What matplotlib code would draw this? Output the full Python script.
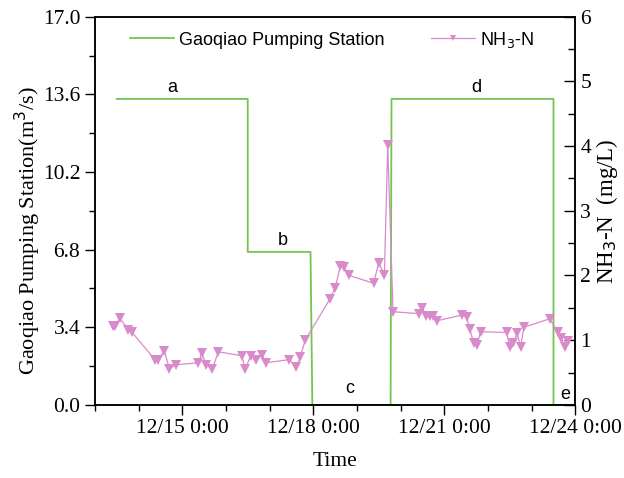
import pandas as pd
import matplotlib.pyplot as plt
import matplotlib.dates as mdates
from matplotlib.ticker import MultipleLocator, FuncFormatter

# pumping station flow (step series), m3/s
flow_time = ["2020-12-13 12:00", "2020-12-16 12:00", "2020-12-16 12:00", "2020-12-17 22:30",
             "2020-12-17 23:30", "2020-12-19 18:30", "2020-12-19 19:00", "2020-12-23 12:00",
             "2020-12-23 12:00", "2020-12-23 22:00"]
flow_val = [13.4, 13.4, 6.7, 6.7, 0.0, 0.0, 13.4, 13.4, 0.0, 0.0]

# NH3-N samples, mg/L
nh3_time = ["2020-12-13 09:45", "2020-12-13 11:00", "2020-12-13 13:45", "2020-12-13 18:20",
            "2020-12-13 20:10", "2020-12-14 09:00", "2020-12-14 10:50", "2020-12-14 14:10",
            "2020-12-14 16:55", "2020-12-14 20:35", "2020-12-15 08:50", "2020-12-15 10:45",
            "2020-12-15 13:15", "2020-12-15 16:30", "2020-12-15 19:50", "2020-12-16 08:45",
            "2020-12-16 10:35", "2020-12-16 13:40", "2020-12-16 16:40", "2020-12-16 19:45",
            "2020-12-16 22:00", "2020-12-17 10:55", "2020-12-17 14:40", "2020-12-17 16:50",
            "2020-12-17 19:35", "2020-12-18 09:00", "2020-12-18 12:05", "2020-12-18 14:50",
            "2020-12-18 16:40", "2020-12-18 19:50", "2020-12-19 09:10", "2020-12-19 12:00",
            "2020-12-19 15:05", "2020-12-19 16:55", "2020-12-19 19:50", "2020-12-20 10:00",
            "2020-12-20 11:50", "2020-12-20 14:10", "2020-12-20 16:25", "2020-12-20 17:50",
            "2020-12-20 20:05", "2020-12-21 09:50", "2020-12-21 12:15", "2020-12-21 14:00",
            "2020-12-21 16:15", "2020-12-21 18:05", "2020-12-21 19:55", "2020-12-22 10:15",
            "2020-12-22 12:00", "2020-12-22 13:55", "2020-12-22 16:05", "2020-12-22 17:55",
            "2020-12-22 19:45", "2020-12-23 09:55", "2020-12-23 14:30", "2020-12-23 16:20",
            "2020-12-23 18:20", "2020-12-23 20:10"]
nh3_val = [1.22, 1.22, 1.34, 1.16, 1.13, 0.70, 0.70, 0.84, 0.56, 0.62,
           0.65, 0.80, 0.62, 0.55, 0.82, 0.76, 0.55, 0.76, 0.69, 0.77,
           0.65, 0.70, 0.58, 0.74, 1.00, 1.63, 1.81, 2.14, 2.13, 2.00,
           1.88, 2.20, 2.00, 4.02, 1.44, 1.41, 1.50, 1.38, 1.38, 1.38,
           1.30, 1.39, 1.36, 1.17, 0.95, 0.93, 1.13, 1.12, 0.89, 0.95,
           1.11, 0.89, 1.20, 1.33, 1.12, 1.04, 0.89, 0.99]

# period labels a-e
lab_text = ["a", "b", "c", "d", "e"]
lab_time = ["2020-12-14 18:30", "2020-12-17 07:30", "2020-12-18 20:00",
            "2020-12-21 17:45", "2020-12-23 18:40"]
lab_val = [13.9, 7.2, 0.7, 13.9, 0.45]

green = "#74c550"
pink = "#d98acb"
serif = "Liberation Serif"
sans = "Liberation Sans"

fig = plt.figure(figsize=(6.24, 4.78), dpi=100)
ax = fig.add_axes([0.152, 0.153, 0.770, 0.812])
ax2 = ax.twinx()

l1, = ax.plot(pd.to_datetime(flow_time), flow_val, color=green, lw=1.3,
              label="Gaoqiao Pumping Station")
l2, = ax2.plot(pd.to_datetime(nh3_time), nh3_val, color=pink, lw=0.9, marker="v",
               markersize=6.5, markeredgewidth=0, label="NH$_3$-N")

for t, x, y in zip(lab_text, pd.to_datetime(lab_time), lab_val):
    ax.text(x, y, t, ha="center", va="center", fontsize=13, family=sans)

ax.set_xlim(pd.Timestamp("2020-12-13"), pd.Timestamp("2020-12-24"))
ax.set_ylim(0, 17)
ax2.set_ylim(0, 6)

ax.xaxis.set_major_locator(mdates.DayLocator(bymonthday=[15, 18, 21, 24]))
ax.xaxis.set_minor_locator(mdates.DayLocator())
ax.xaxis.set_major_formatter(FuncFormatter(
    lambda v, p: "{d.month}/{d.day} {d.hour}:{d.minute:02d}".format(d=mdates.num2date(v))))
ax.yaxis.set_major_locator(MultipleLocator(3.4))
ax.yaxis.set_minor_locator(MultipleLocator(1.7))
ax.yaxis.set_major_formatter(FuncFormatter(lambda v, p: f"{v:.1f}"))
ax2.yaxis.set_major_locator(MultipleLocator(1))
ax2.yaxis.set_minor_locator(MultipleLocator(0.5))

ax.tick_params(which="major", direction="out", length=7, width=1, labelsize=15.5)
ax.tick_params(which="minor", direction="out", length=4, width=1)
ax2.tick_params(which="major", direction="in", length=8, width=1, labelsize=15.5)
ax2.tick_params(which="minor", direction="in", length=5, width=1)
for a in (ax, ax2):
    for lbl in a.get_xticklabels() + a.get_yticklabels():
        lbl.set_family(serif)
    for s in a.spines.values():
        s.set_linewidth(1.1)

ax.set_xlabel("Time", fontsize=15.5, family=serif, labelpad=10)
ax.set_ylabel("Gaoqiao Pumping Station(m$^3$/s)", fontsize=16, family=serif)
ax.yaxis.set_label_coords(-0.108, 0.45)
ax2.set_ylabel("NH$_3$-N  (mg/L)", fontsize=16.5, family=serif, labelpad=2)

leg = ax2.legend(handles=[l1, l2], ncol=2, loc="upper left", bbox_to_anchor=(0.055, 0.99),
                 frameon=False, borderpad=0, handlelength=2.4, handletextpad=0.3,
                 columnspacing=2.6, prop={"family": sans, "size": 13}, markerscale=0.6)

fig.savefig("out.png", dpi=100)
